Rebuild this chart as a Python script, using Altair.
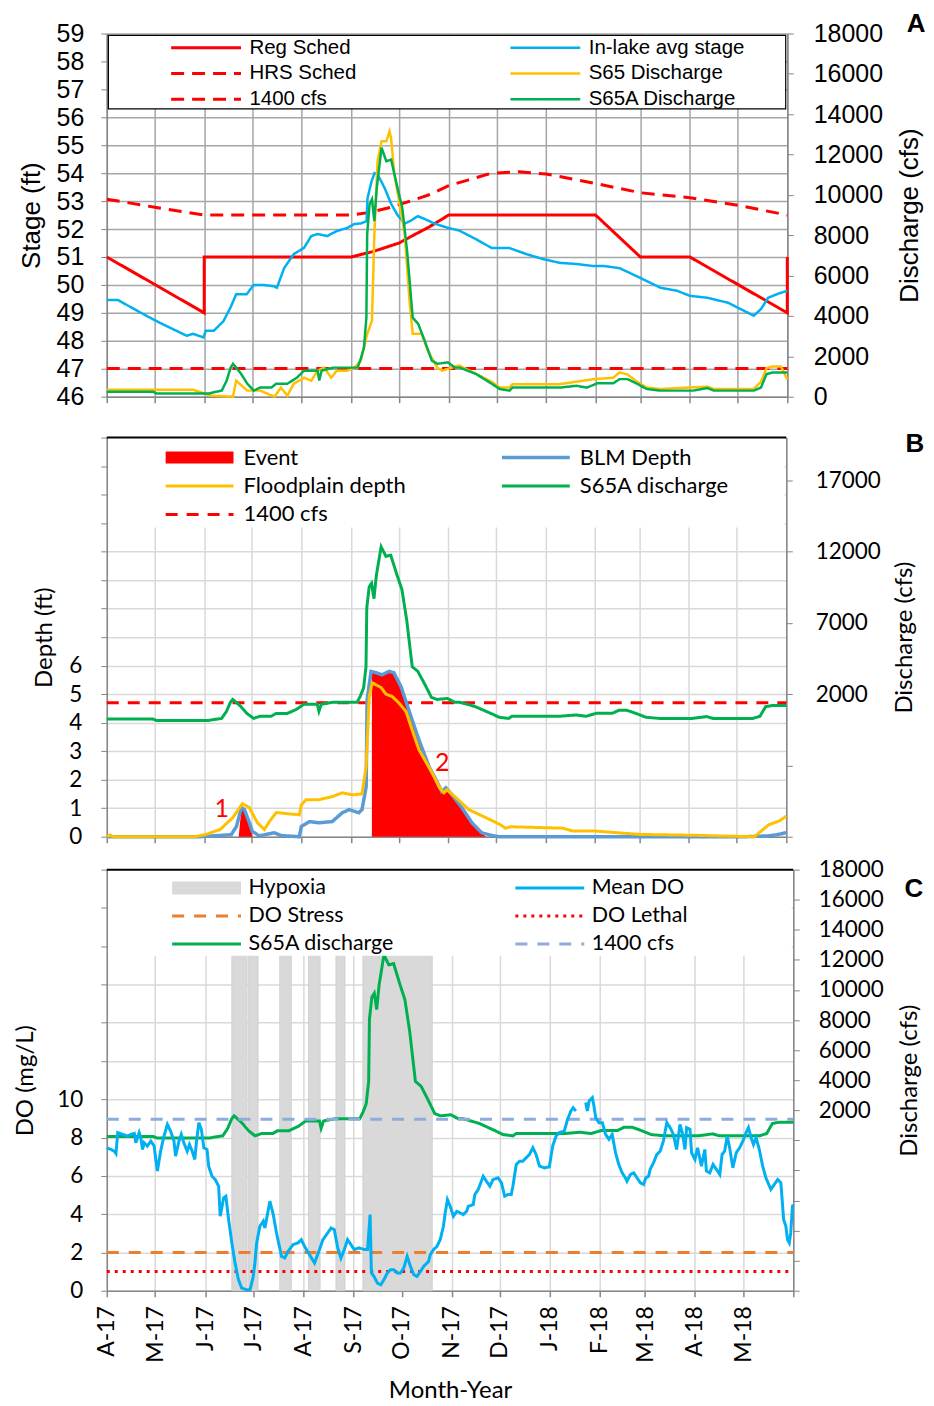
import altair as alt
import pandas as pd

START = pd.Timestamp("2017-04-01")

# ------------------------------------------------------------------
# DATA  (x values are day offsets from 1 April 2017)
# ------------------------------------------------------------------
# Panel A
reg_day = [0, 61, 61, 153, 167, 183, 191, 201, 210, 214, 306, 334, 365, 426, 426]
reg_val = [51.0, 49.0, 51.0, 51.0, 51.2, 51.5, 51.75, 52.05, 52.36, 52.5, 52.5, 51.0, 51.0, 49.0, 51.0]

hrs_day = [0, 30, 61, 153, 165, 178, 190, 203, 214, 226, 241, 258, 275, 306, 334, 365, 395, 426]
hrs_val = [53.07, 52.78, 52.5, 52.5, 52.6, 52.78, 53.0, 53.25, 53.55, 53.75, 54.0, 54.05, 53.97,
           53.63, 53.3, 53.12, 52.85, 52.5]

lake_day = [0, 7, 12, 22.7, 33, 43.5, 50, 54, 60.5, 62, 67, 73, 77.5, 81, 87.6, 92, 98, 104.6,
            106.5, 111, 117, 123.5, 128, 132, 138, 144, 150.6, 155, 159, 162.6, 163.2, 165.7,
            167.6, 169.5, 174, 178, 182, 186.5, 189.7, 194.7, 199, 205, 213.6, 220.5, 231, 241,
            252, 262.8, 272.8, 283.5, 294, 304, 310.6, 321, 334, 346.6, 357, 365, 376, 389, 399,
            405, 409.6, 414, 420, 426]
lake_val = [49.46, 49.46, 49.3, 48.96, 48.65, 48.36, 48.18, 48.25, 48.12, 48.36, 48.36, 48.7,
            49.2, 49.67, 49.67, 50.0, 50.0, 49.95, 49.9, 50.6, 51.1, 51.33, 51.75, 51.82, 51.75,
            51.93, 52.04, 52.18, 52.2, 52.28, 53.1, 53.7, 54.0, 53.96, 53.46, 52.9, 52.5, 52.2,
            52.28, 52.46, 52.36, 52.2, 52.04, 51.95, 51.64, 51.32, 51.32, 51.1, 50.93, 50.79,
            50.75, 50.68, 50.68, 50.6, 50.25, 49.9, 49.79, 49.61, 49.54, 49.36, 49.07, 48.9,
            49.14, 49.54, 49.68, 49.79]

s65_day = [0, 54, 65, 79, 81, 88, 96, 105, 109, 113, 117, 123.5, 128, 132, 136, 140.5, 144,
           150.5, 155, 159, 163, 166, 167.5, 169.5, 172, 175, 177, 178, 180, 183, 186.5, 189.5,
           191.5, 197, 201, 207, 210, 220.5, 241, 246, 252, 254, 283.5, 304, 317, 321, 326,
           332, 338, 346.5, 376, 380, 405, 409.5, 413, 417, 422, 426]
s65_q = [346, 346, 50, 0, 790, 300, 300, 0, 450, 50, 640, 940, 790, 1290, 1440, 940, 1290, 1290,
         1440, 1780, 3100, 3760, 8060, 11670, 12660, 12660, 13150, 12800, 11030, 9690, 8060,
         4750, 3120, 3120, 2270, 1430, 1290, 1550, 740, 450, 450, 620, 620, 860, 940, 1200,
         1100, 740, 450, 380, 500, 380, 380, 740, 1420, 1500, 1500, 860]

# S65A discharge (shared by all three panels)
s65a_day = [0, 29, 31, 64, 67, 72, 75, 77.5, 79, 81, 84, 88, 92, 96, 103, 106, 113, 119, 123.5,
            132, 133, 134.5, 142, 157, 159, 161, 162.5, 163, 164.5, 166, 167.5, 169, 172, 175,
            178, 182, 185, 188, 191.5, 195, 199, 203.5, 207, 213.5, 218, 221, 231, 241, 246,
            252, 254, 283.5, 294, 300.5, 307, 317, 321, 326, 332, 338, 346.5, 367, 376, 380,
            405, 409.5, 413, 417, 426]
s65a_q = [250, 250, 160, 160, 220, 300, 790, 1430, 1630, 1440, 1140, 640, 300, 450, 450, 640,
          640, 940, 1290, 1290, 800, 1290, 1440, 1440, 1880, 2440, 3920, 8060, 9530, 9780, 8700,
          10340, 12340, 11670, 11750, 10340, 9350, 7220, 3920, 3600, 2770, 1780, 1630, 1700,
          1440, 1440, 1130, 640, 380, 300, 450, 450, 540, 450, 660, 660, 870, 870, 640, 380,
          300, 300, 430, 300, 300, 450, 1120, 1200, 1200]

ref_day = [0, 426]
ref_q = [1400, 1400]

# Panel B
fp_day = [0, 2, 4, 55, 62, 71, 79, 85, 89.4, 94.4, 98.8, 101.9, 106.3, 112.6, 120.7, 122, 125,
          133, 141, 147.6, 154, 160, 162.6, 164.5, 166.4, 172, 175, 178.9, 183, 187.6, 191.4,
          195.7, 203.9, 208.3, 211.4, 213.3, 218.9, 227, 237.6, 245.8, 250, 253, 286, 292, 306,
          334, 369, 390, 406, 415, 421.5, 426]
fp_val = [0.0, 0.06, 0.0, 0.0, 0.08, 0.25, 0.67, 1.16, 1.02, 0.49, 0.25, 0.53, 0.85, 0.81, 0.77,
          1.12, 1.3, 1.3, 1.4, 1.54, 1.47, 1.5, 2.46, 4.9, 5.4, 5.23, 5.0, 4.92, 4.7, 4.39, 3.75,
          3.05, 2.25, 1.75, 1.54, 1.65, 1.37, 0.95, 0.67, 0.45, 0.3, 0.35, 0.3, 0.2, 0.2, 0.08,
          0.05, 0.02, 0.0, 0.42, 0.55, 0.72]

blm_day = [0, 58, 78, 81.3, 84.4, 86.3, 89.4, 91.3, 95.7, 105, 109.4, 120.7, 122, 127, 133,
           141.3, 147.6, 152, 158, 160, 162.6, 163.2, 165.7, 168.9, 172.6, 177, 180, 184.5,
           187.6, 191.4, 195.7, 202, 206.4, 210, 212.6, 216.4, 222.6, 228.9, 235, 241.4, 246,
           400, 415, 420, 426]
blm_val = [0, 0, 0.07, 0.36, 1.02, 0.95, 0.49, 0.18, 0.03, 0.14, 0.04, 0.0, 0.36, 0.53, 0.49,
           0.53, 0.84, 0.95, 0.84, 0.95, 1.75, 4.8, 5.8, 5.75, 5.68, 5.8, 5.75, 5.26, 4.74, 4.1,
           3.4, 2.46, 2.0, 1.58, 1.72, 1.47, 1.02, 0.49, 0.14, 0.04, 0.0, 0.0, 0.03, 0.07, 0.14]

ev1_day = [82.7, 84.4, 86.3, 89.4, 91.5]
ev1_val = [0.0, 1.0, 0.93, 0.47, 0.0]
ev2_day = [166.2, 168.9, 172.6, 177, 180, 184.5, 187.6, 191.4, 195.7, 202, 206.4, 210, 212.6,
           216.4, 222.6, 228.9, 235, 238]
ev2_val = [5.75, 5.72, 5.65, 5.77, 5.72, 5.23, 4.71, 4.07, 3.37, 2.43, 1.97, 1.55, 1.69, 1.44,
           0.99, 0.46, 0.11, 0.0]

lab_day = [72.1, 210.3]
lab_val = [0.98, 2.6]
lab_txt = ["1", "2"]

# Panel C
do_day_a = [0, 2.6, 4.7, 5.7, 6.8, 9.9, 12.9, 15.0, 17.1, 18.0, 19.1, 20.1, 21.1, 22.2, 23.2,
            25.2, 27.3, 29.4, 30.4, 31.4, 33.4, 35.5, 37.6, 39.6, 41.7, 42.7, 44.8, 46.2, 47.8,
            49.9, 51.3, 53.0, 54.6, 55.6, 57.1, 58.7, 60.2, 62.2, 63.2, 65.3, 67.3, 69.4, 70.4,
            72.5, 73.9, 75.6, 77.6, 79.6, 81.7, 83.7, 86.8, 88.9, 90.9, 91.9, 93.0, 95.0, 97.1,
            98.1, 99.1, 101.2, 103.3, 105.3, 107.3, 108.4, 110.4, 112.5, 115.6, 118.7, 120.7,
            122.7, 125.8, 128.9, 132.0, 134.1, 137.1, 139.2, 141.2, 143.3, 145.3, 147.4, 149.4,
            151.5, 153.5, 156.6, 159.7, 161.8, 163.4, 164.2, 165.8, 167.9, 170.0, 172.0, 174.1,
            176.1, 178.1, 180.2, 182.3, 184.3, 186.4, 188.4, 190.5, 192.5, 194.6, 196.6, 199.7,
            200.7, 202.8, 204.9, 206.9, 208.9, 210.0, 211.4, 213.1, 215.1, 217.2, 219.2, 221.2,
            223.3, 224.3, 227.4, 228.4, 230.5, 233.6, 235.6, 237.7, 239.7, 242.8, 244.9, 246.9,
            249.0, 251.0, 252.0, 254.1, 256.2, 258.2, 260.3, 262.3, 264.4, 266.4, 268.5, 271.6,
            274.6, 276.7, 278.8, 280.8, 283.9, 285.9, 288.0, 289.4, 291.1]
do_val_a = [7.47, 7.38, 7.29, 7.17, 8.26, 8.17, 8.08, 8.17, 8.22, 7.73, 8.0, 8.26, 8.0, 7.38,
            7.73, 7.56, 7.82, 7.56, 6.86, 6.25, 7.29, 8.08, 8.69, 8.34, 7.82, 7.03, 7.82, 8.17,
            7.73, 7.29, 7.64, 7.29, 6.86, 7.73, 8.78, 8.43, 7.47, 7.38, 6.51, 5.98, 5.81, 5.46,
            3.89, 4.85, 4.94, 3.72, 2.5, 1.45, 0.58, 0.14, 0.05, 0.05, 0.75, 1.45, 2.5, 3.37,
            3.63, 3.28, 3.72, 4.68, 3.98, 3.02, 2.24, 1.8, 1.71, 2.06, 2.41, 2.5, 2.67, 2.32,
            1.88, 1.45, 2.15, 2.67, 3.02, 3.28, 3.19, 2.24, 1.71, 2.15, 2.67, 2.41, 2.15, 2.24,
            2.15, 2.15, 3.98, 0.93, 0.75, 0.4, 0.31, 0.58, 0.93, 1.1, 1.1, 0.93, 0.93, 1.19, 1.8,
            1.27, 0.84, 0.75, 1.01, 1.27, 1.53, 1.88, 2.15, 2.32, 2.67, 3.37, 4.07, 4.76, 4.41,
            3.89, 4.15, 4.07, 3.98, 4.15, 4.41, 4.5, 5.03, 5.29, 5.98, 5.72, 5.46, 5.81, 5.9,
            5.64, 4.94, 5.03, 5.03, 5.46, 6.6, 6.77, 6.77, 6.95, 7.12, 7.47, 7.12, 6.51, 6.42,
            6.47, 7.56, 8.08, 8.26, 8.34, 8.95, 9.39, 9.56, 9.39]
do_day_b = [297.2, 298.2, 299.3, 301.3, 302.3, 303.4, 305.4, 307.5, 309.5, 311.6, 313.6, 315.7,
            317.7, 319.8, 321.8, 322.8, 324.9, 327.0, 329.0, 331.1, 333.1, 334.5, 336.2, 337.2,
            339.3, 341.3, 343.4, 345.4, 347.5, 349.6, 351.6, 353.6, 355.7, 357.1, 358.8, 359.8,
            361.9, 362.9, 365.0, 366.6, 369.0, 371.1, 372.1, 374.2, 376.2, 378.3, 380.4, 381.8,
            383.4, 385.0, 386.5, 388.5, 390.6, 392.7, 394.7, 396.7, 398.2, 399.8, 401.3, 402.9,
            404.9, 407.0, 409.0, 412.1, 414.2, 416.3, 418.3, 420.0, 421.4, 422.4, 423.5, 424.4,
            425.5, 426.0]
do_val_b = [9.83, 9.39, 9.91, 10.09, 9.65, 9.04, 8.78, 8.78, 8.17, 7.91, 8.17, 7.21, 6.6, 6.16,
            5.9, 5.72, 6.07, 6.16, 5.9, 5.64, 5.55, 5.9, 5.98, 6.34, 6.69, 7.12, 7.29, 7.82, 8.78,
            8.52, 8.17, 7.38, 8.69, 8.26, 7.38, 8.52, 8.43, 7.21, 6.86, 7.47, 6.51, 7.38, 6.25,
            6.16, 6.6, 6.34, 6.07, 7.12, 7.29, 8.08, 7.47, 6.42, 7.21, 7.47, 7.82, 8.26, 8.52,
            8.0, 7.64, 8.0, 7.38, 6.51, 5.9, 5.29, 5.55, 5.81, 5.64, 3.72, 3.37, 2.67, 2.5, 3.02,
            4.41, 4.5]

hyp_start = [77.6, 88.0, 107.3, 125.2, 142.2, 158.9]
hyp_end = [87.1, 93.9, 114.5, 132.4, 147.8, 202.0]

stress_val = [2.0, 2.0]
lethal_val = [1.0, 1.0]

# ------------------------------------------------------------------
# helpers
# ------------------------------------------------------------------
def iso(d):
    return (START + pd.Timedelta(days=float(d))).strftime("%Y-%m-%dT%H:%M:%S")


def sdf(days, vals, name, seg=0):
    return pd.DataFrame({"date": [iso(d) for d in days], "value": vals, "series": name,
                         "order": list(range(len(days))), "seg": seg})


def dt(d):
    t = START + pd.Timedelta(days=float(d))
    return alt.DateTime(year=t.year, month=t.month, date=t.day)


def month_dt(i):
    m = 4 + i
    return alt.DateTime(year=2017 + (m - 1) // 12, month=(m - 1) % 12 + 1, date=1)


MONTHS = [month_dt(i) for i in range(15)]
X_SCALE = alt.Scale(domain=[MONTHS[0], MONTHS[-1]])
ONE = pd.DataFrame({"k": [0]})


def style_enc(names, colors, dashes, widths, legend):
    return dict(
        color=alt.Color("series:N", scale=alt.Scale(domain=names, range=colors), legend=legend),
        strokeDash=alt.StrokeDash("series:N", scale=alt.Scale(domain=names, range=dashes),
                                  legend=legend),
        strokeWidth=alt.StrokeWidth("series:N",
                                    scale=alt.Scale(type="ordinal", domain=names, range=widths),
                                    legend=legend),
    )


AXC = "#868686"
FA = "Liberation Sans"
FB = "Lato"
SOLID = [1, 0]

# ------------------------------------------------------------------
# PANEL A
# ------------------------------------------------------------------
GA = "#a6a6a6"
xA_axis = alt.Axis(values=MONTHS, labels=False, ticks=True, tickSize=6, tickColor=AXC,
                   tickWidth=1.5, grid=True, gridColor=GA, gridWidth=1.5, domainColor=AXC,
                   domainWidth=1.5, title=None)
yA_scale = alt.Scale(domain=[46, 59], nice=False, zero=False)
yA_axis = alt.Axis(orient="left", values=list(range(46, 60)), grid=True, gridColor=GA,
                   gridWidth=1.5, domainColor=AXC, domainWidth=1.5, tickColor=AXC, tickSize=6,
                   labelFont=FA, labelFontSize=25, labelColor="black", labelPadding=17,
                   labelOverlap=False, title="Stage (ft)", titleFont=FA, titleFontSize=26,
                   titleFontWeight="normal", titleColor="black", titlePadding=12)
qA_scale = alt.Scale(domain=[0, 18000], nice=False)
qA_axis = alt.Axis(orient="right", values=list(range(0, 18001, 2000)), format="d", grid=False,
                   domainColor=AXC, domainWidth=1.5, tickColor=AXC, tickSize=6, labelFont=FA,
                   labelFontSize=25, labelColor="black", labelPadding=20, labelOverlap=False,
                   title="Discharge (cfs)", titleFont=FA, titleFontSize=26,
                   titleFontWeight="normal", titleColor="black", titleAngle=270,
                   titleBaseline="top", titlePadding=14)

# legend entries are filled column by column
A_NAMES = ["Reg Sched", "HRS Sched", "1400 cfs", "In-lake avg stage", "S65 Discharge",
           "S65A Discharge"]
A_COLORS = ["#ff0000", "#ff0000", "#ff0000", "#00b0f0", "#ffc000", "#00b050"]
A_DASH = [SOLID, [13, 8], [13, 8], SOLID, SOLID, SOLID]
A_WIDTH = [3, 3, 3, 2.5, 2.5, 2.5]
legA = alt.Legend(orient="none", legendX=63, legendY=4, columns=2, columnPadding=152,
                  rowPadding=5, clipHeight=20, padding=0, symbolType="stroke", symbolSize=4900,
                  labelFont=FA, labelFontSize=20.5, labelColor="black",
                  labelOffset=7, labelLimit=400, title=None)
encA = style_enc(A_NAMES, A_COLORS, A_DASH, A_WIDTH, legA)


def xA():
    return alt.X("date:T", scale=X_SCALE, axis=xA_axis)


boxA = alt.Chart(ONE).mark_rect(fill="white", stroke="black", strokeWidth=1.2).encode(
    x=alt.X(datum=dt(1), type="temporal", scale=X_SCALE, axis=xA_axis),
    x2=alt.X2(datum=dt(425)),
    y=alt.Y(datum=56.3, type="quantitative", scale=yA_scale, axis=yA_axis),
    y2=alt.Y2(datum=58.93),
)
yA = alt.Y("value:Q", scale=yA_scale, axis=yA_axis)
regA = alt.Chart(sdf(reg_day, reg_val, "Reg Sched")).mark_line().encode(
    x=xA(), y=yA, order="order:Q", **encA)
hrsA = alt.Chart(sdf(hrs_day, hrs_val, "HRS Sched")).mark_line().encode(
    x=xA(), y=yA, order="order:Q", **encA)
lakeA = alt.Chart(sdf(lake_day, lake_val, "In-lake avg stage")).mark_line().encode(
    x=xA(), y=yA, order="order:Q", **encA)
stageA = alt.layer(boxA, regA, hrsA, lakeA)

yqA = alt.Y("value:Q", scale=qA_scale, axis=qA_axis)
refA = alt.Chart(sdf(ref_day, ref_q, "1400 cfs")).mark_line().encode(
    x=xA(), y=yqA, order="order:Q", **encA)
s65A = alt.Chart(sdf(s65_day, s65_q, "S65 Discharge")).mark_line().encode(
    x=xA(), y=yqA, order="order:Q", **encA)
s65aA = alt.Chart(sdf(s65a_day, s65a_q, "S65A Discharge")).mark_line().encode(
    x=xA(), y=yqA, order="order:Q", **encA)
dischA = alt.layer(refA, s65A, s65aA)

panelA = alt.layer(stageA, dischA).resolve_scale(y="independent").properties(
    width=682, height=364,
    title=alt.TitleParams("A", anchor="end", frame="bounds", font=FA, fontSize=26,
                          fontWeight="bold", color="black", offset=-16, dx=3))

# ------------------------------------------------------------------
# PANEL B
# ------------------------------------------------------------------
GB = "#d9d9d9"
xB_axis = alt.Axis(values=MONTHS, labels=False, ticks=True, tickSize=6, tickColor=AXC,
                   tickWidth=1.5, grid=True, gridColor=GB, gridWidth=1.5, domainColor=AXC,
                   domainWidth=1.5, title=None)


def xB():
    return alt.X("date:T", scale=X_SCALE, axis=xB_axis)


dB_scale = alt.Scale(domain=[0, 14], nice=False)
dB_axis = alt.Axis(orient="left", values=list(range(0, 15)),
                   labelExpr="datum.value <= 6 ? datum.label : ''", grid=True, gridColor=GB,
                   gridWidth=1.5, domainColor=AXC, domainWidth=1.5, tickColor=AXC, tickSize=6,
                   labelFont=FB, labelFontSize=22.5, labelColor="black", labelPadding=19,
                   labelOverlap=False, title="Depth (ft)", titleFont=FB, titleFontSize=24,
                   titleFontWeight="normal", titleColor="black", titlePadding=12)
qB_scale = alt.Scale(domain=[-8000, 20000], nice=False, zero=False)
qB_axis = alt.Axis(orient="right", values=[-8000, -3000, 2000, 7000, 12000, 17000], format="d",
                   labelExpr="datum.value >= 2000 ? datum.label : ''", grid=False,
                   domainColor=AXC, domainWidth=1.5, tickColor=AXC, tickSize=6, labelFont=FB,
                   labelFontSize=22.5, labelColor="black", labelPadding=23, labelOverlap=False,
                   title="Discharge (cfs)", titleFont=FB, titleFontSize=24,
                   titleFontWeight="normal", titleColor="black", titleAngle=270,
                   titleBaseline="top", titlePadding=12)

B_NAMES = ["Event", "Floodplain depth", "1400 cfs", "BLM Depth", "S65A discharge"]
B_COLORS = ["#ff0000", "#ffc000", "#ff0000", "#5b9bd5", "#00b050"]
B_DASH = [SOLID, SOLID, [12, 9], SOLID, SOLID]
B_WIDTH = [12, 3, 3, 3.5, 3]
legB = alt.Legend(orient="none", legendX=53, legendY=9, columns=2, columnPadding=90,
                  rowPadding=6.5, clipHeight=22, padding=0, symbolType="stroke",
                  symbolSize=4624, labelFont=FB, labelFontSize=22,
                  labelColor="black", labelOffset=4, labelLimit=400, title=None)
encB = style_enc(B_NAMES, B_COLORS, B_DASH, B_WIDTH, legB)

yqB = alt.Y("value:Q", scale=qB_scale, axis=qB_axis)
refB = alt.Chart(sdf(ref_day, ref_q, "1400 cfs")).mark_line().encode(
    x=xB(), y=yqB, order="order:Q", **encB)
s65aB = alt.Chart(sdf(s65a_day, s65a_q, "S65A discharge")).mark_line().encode(
    x=xB(), y=yqB, order="order:Q", **encB)
dischB = alt.layer(refB, s65aB)

yB = alt.Y("value:Q", scale=dB_scale, axis=dB_axis)
ev_df = pd.concat([sdf(ev1_day, ev1_val, "Event", 1), sdf(ev2_day, ev2_val, "Event", 2)])
eventB = alt.Chart(ev_df).mark_area(color="#ff0000", opacity=1).encode(
    x=xB(), y=alt.Y("value:Q", scale=dB_scale, axis=dB_axis, stack=None), detail="seg:N")
blmB = alt.Chart(sdf(blm_day, blm_val, "BLM Depth")).mark_line().encode(
    x=xB(), y=yB, order="order:Q", **encB)
fpB = alt.Chart(sdf(fp_day, fp_val, "Floodplain depth")).mark_line().encode(
    x=xB(), y=yB, order="order:Q", **encB)
labB = alt.Chart(pd.DataFrame({"date": [iso(d) for d in lab_day], "value": lab_val,
                               "txt": lab_txt})).mark_text(
    font=FB, fontSize=25, color="#ff0000").encode(x=xB(), y=yB, text="txt:N")
boxB = alt.Chart(ONE).mark_rect(fill="white").encode(
    x=alt.X(datum=dt(1), type="temporal", scale=X_SCALE, axis=xB_axis),
    x2=alt.X2(datum=dt(425)),
    y=alt.Y(datum=10.85, type="quantitative", scale=dB_scale, axis=dB_axis),
    y2=alt.Y2(datum=14),
)
topB = alt.Chart(ONE).mark_rule(color="black", strokeWidth=2).encode(
    x=alt.X(datum=dt(0), type="temporal", scale=X_SCALE, axis=xB_axis),
    x2=alt.X2(datum=dt(426)),
    y=alt.Y(datum=14, type="quantitative", scale=dB_scale, axis=dB_axis),
)
depthB = alt.layer(eventB, blmB, fpB, labB, boxB, topB)

panelB = alt.layer(dischB, depthB).resolve_scale(y="independent").properties(
    width=681, height=400,
    title=alt.TitleParams("B", anchor="end", frame="bounds", font=FA, fontSize=26,
                          fontWeight="bold", color="black", offset=-30, dx=8))

# ------------------------------------------------------------------
# PANEL C
# ------------------------------------------------------------------
xC_axis = alt.Axis(values=MONTHS, labels=True, ticks=True, tickSize=6, tickColor=AXC,
                   tickWidth=1.5, grid=True, gridColor=GB, gridWidth=1.5, domainColor=AXC,
                   domainWidth=1.5, labelAngle=270, labelFlush=False, labelOverlap=False,
                   labelFont=FB, labelFontSize=23, labelColor="black", labelPadding=9,
                   labelExpr=("month(datum.value) == 5 && year(datum.value) == 2018 ? '' : "
                              "substring(timeFormat(datum.value, '%b'), 0, 1) + '-' + "
                              "timeFormat(datum.value, '%y')"),
                   title="Month-Year", titleFont=FB, titleFontSize=24, titleFontWeight="normal",
                   titleColor="black", titlePadding=16)


def xC():
    return alt.X("date:T", scale=X_SCALE, axis=xC_axis)


dC_scale = alt.Scale(domain=[0, 22], nice=False)
dC_axis = alt.Axis(orient="left", values=list(range(0, 23, 2)),
                   labelExpr="datum.value <= 10 ? datum.label : ''", grid=True, gridColor=GB,
                   gridWidth=1.5, domainColor=AXC, domainWidth=1.5, tickColor=AXC, tickSize=6,
                   labelFont=FB, labelFontSize=22.5, labelColor="black", labelPadding=18,
                   labelOverlap=False, title="DO (mg/L)", titleFont=FB, titleFontSize=24,
                   titleFontWeight="normal", titleColor="black", titlePadding=19)
qC_scale = alt.Scale(domain=[-10000, 18000], nice=False, zero=False)
qC_axis = alt.Axis(orient="right", values=list(range(-10000, 18001, 2000)), format="d",
                   labelExpr="datum.value >= 2000 ? datum.label : ''", grid=False,
                   domainColor=AXC, domainWidth=1.5, tickColor=AXC, tickSize=6, labelFont=FB,
                   labelFontSize=22.5, labelColor="black", labelPadding=19, labelOverlap=False,
                   title="Discharge (cfs)", titleFont=FB, titleFontSize=24,
                   titleFontWeight="normal", titleColor="black", titleAngle=270,
                   titleBaseline="top", titlePadding=14)

C_NAMES = ["Hypoxia", "DO Stress", "S65A discharge", "Mean DO", "DO Lethal", "1400 cfs"]
C_COLORS = ["#d9d9d9", "#ed7d31", "#00b050", "#00b0f0", "#ff0000", "#8faadc"]
C_DASH = [SOLID, [12, 10], SOLID, SOLID, [3, 5], [12, 10]]
C_WIDTH = [13, 3, 3, 3, 3, 3]
legC = alt.Legend(orient="none", legendX=59, legendY=8, columns=2, columnPadding=114,
                  rowPadding=6, clipHeight=21, padding=0, symbolType="stroke",
                  symbolSize=4761, labelFont=FB, labelFontSize=21.5,
                  labelColor="black", labelOffset=1, labelLimit=400, title=None)
encC = style_enc(C_NAMES, C_COLORS, C_DASH, C_WIDTH, legC)

# hypoxia bands span the whole DO axis (0-22 mg/L), i.e. -10000..18000 on the discharge axis
hyp_df = pd.DataFrame({"start": [iso(d) for d in hyp_start], "end": [iso(d) for d in hyp_end]})
hypC = alt.Chart(hyp_df).mark_rect(fill="#d9d9d9", stroke="#cccccc", strokeWidth=0.8).encode(
    x=alt.X("start:T", scale=X_SCALE, axis=xC_axis), x2="end:T",
    y=alt.Y(datum=-10000, type="quantitative", scale=qC_scale, axis=qC_axis),
    y2=alt.Y2(datum=18000))
yqC = alt.Y("value:Q", scale=qC_scale, axis=qC_axis)
s65aC = alt.Chart(sdf(s65a_day, s65a_q, "S65A discharge")).mark_line().encode(
    x=xC(), y=yqC, order="order:Q", **encC)
refC = alt.Chart(sdf(ref_day, ref_q, "1400 cfs")).mark_line().encode(
    x=xC(), y=yqC, order="order:Q", **encC)
dischC = alt.layer(hypC, s65aC, refC)

yC = alt.Y("value:Q", scale=dC_scale, axis=dC_axis)
stressC = alt.Chart(sdf(ref_day, stress_val, "DO Stress")).mark_line().encode(
    x=xC(), y=yC, order="order:Q", **encC)
lethalC = alt.Chart(sdf(ref_day, lethal_val, "DO Lethal")).mark_line().encode(
    x=xC(), y=yC, order="order:Q", **encC)
do_df = pd.concat([sdf(do_day_a, do_val_a, "Mean DO", 1), sdf(do_day_b, do_val_b, "Mean DO", 2)])
doC = alt.Chart(do_df).mark_line().encode(
    x=xC(), y=yC, order="order:Q", detail="seg:N", **encC)
boxC = alt.Chart(ONE).mark_rect(fill="white").encode(
    x=alt.X(datum=dt(1), type="temporal", scale=X_SCALE, axis=xC_axis),
    x2=alt.X2(datum=dt(425)),
    y=alt.Y(datum=17.5, type="quantitative", scale=dC_scale, axis=dC_axis),
    y2=alt.Y2(datum=22),
)
topC = alt.Chart(ONE).mark_rule(color="black", strokeWidth=2).encode(
    x=alt.X(datum=dt(0), type="temporal", scale=X_SCALE, axis=xC_axis),
    x2=alt.X2(datum=dt(426)),
    y=alt.Y(datum=22, type="quantitative", scale=dC_scale, axis=dC_axis),
)
doGroup = alt.layer(stressC, lethalC, doC, boxC, topC)

panelC = alt.layer(dischC, doGroup).resolve_scale(y="independent").properties(
    width=688, height=422,
    title=alt.TitleParams("C", anchor="end", frame="bounds", font=FA, fontSize=26,
                          fontWeight="bold", color="black", offset=-43, dx=2))

# ------------------------------------------------------------------
top = alt.vconcat(panelA, panelB, spacing=17).resolve_scale(
    color="independent", strokeDash="independent", strokeWidth="independent")
chart = alt.vconcat(top, panelC, spacing=10).resolve_scale(
    color="independent", strokeDash="independent", strokeWidth="independent").properties(
    padding={"left": 5, "top": 2, "right": 0, "bottom": 5},
    background="white",
).configure_view(stroke=None)

chart.save("out.html", embed_options={"renderer": "svg", "actions": False})
